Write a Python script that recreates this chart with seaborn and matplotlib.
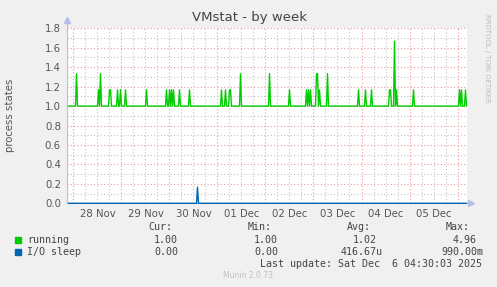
import matplotlib
matplotlib.use("Agg")
import matplotlib.pyplot as plt
import matplotlib.dates as mdates
import numpy as np
import pandas as pd
import seaborn as sns

# ---------------- data ----------------
title = "VMstat - by week"
ylabel = "process states"
series_names = ["running", "I/O sleep"]
series_colors = ["#00CC00", "#0066B3"]

start_time = "2025-11-27 21:00"
end_time = "2025-12-06 04:30"
running_baseline = 1.0
io_baseline = 0.0

# hours after 2025-11-28 00:00 where "running" spikes, and spike values
running_spike_hours = [1.5, 12.5, 13.5, 18, 18.5, 22, 23.5, 26, 36.5, 46.5, 48, 49, 50, 53, 58,
                       74, 76, 78, 78.5, 83.5, 98, 108, 116.5, 117.5, 118.5, 121.5, 122, 123,
                       127, 142.5, 146, 149, 158, 158.5, 160.5, 161.5, 170, 193, 194, 196]
running_spike_values = [1.333, 1.167, 1.333, 1.167, 1.167, 1.167, 1.167, 1.167, 1.167, 1.167,
                        1.167, 1.167, 1.167, 1.167, 1.167, 1.167, 1.167, 1.167, 1.167, 1.333,
                        1.333, 1.167, 1.167, 1.167, 1.167, 1.333, 1.333, 1.167, 1.333, 1.167,
                        1.167, 1.167, 1.167, 1.167, 1.667, 1.167, 1.167, 1.167, 1.167, 1.167]
io_spike_hours = [62]
io_spike_values = [0.167]

xtick_labels = ["28 Nov", "29 Nov", "30 Nov", "01 Dec", "02 Dec", "03 Dec", "04 Dec", "05 Dec"]

legend_cur = ["1.00", "0.00"]
legend_min = ["1.00", "0.00"]
legend_avg = ["1.02", "416.67u"]
legend_max = ["4.96", "990.00m"]
last_update = "Last update: Sat Dec  6 04:30:03 2025"
footer = "Munin 2.0.73"
side_text = "RRDTOOL / TOBI OETIKER"

# ---------------- build frame ----------------
ref = pd.Timestamp("2025-11-28 00:00")
idx = pd.date_range(start_time, end_time, freq="30min")
running = pd.Series(running_baseline, index=idx)
for h, v in zip(running_spike_hours, running_spike_values):
    running[ref + pd.Timedelta(hours=h)] = v
io = pd.Series(io_baseline, index=idx)
for h, v in zip(io_spike_hours, io_spike_values):
    io[ref + pd.Timedelta(hours=h)] = v
df = pd.DataFrame({"time": idx, series_names[0]: running.values, series_names[1]: io.values})
long = df.melt(id_vars="time", var_name="series", value_name="value")

# ---------------- figure ----------------
sns.set_style("white")
plt.rcParams["font.family"] = ["DejaVu Sans"]
W, H = 497, 287
fig = plt.figure(figsize=(W / 100, H / 100), dpi=100, facecolor="#F0F0F0")
ax = fig.add_axes([66.5 / W, 1 - 203.3 / H, 400 / W, 175 / H])
ax.set_facecolor("white")

x0 = pd.Timestamp("2025-11-27 20:30")
x1 = pd.Timestamp("2025-12-06 04:30")

GRAY = "#C4C4C4"
RED = "#EE9A9A"
# grid
for t in pd.date_range("2025-11-27 18:00", x1, freq="6h"):
    if t < x0 or t.hour == 0:
        continue
    ax.axvline(t, color=GRAY, lw=0.8, ls=(0, (1, 2)), zorder=0)
for t in pd.date_range("2025-11-28 00:00", x1, freq="1D"):
    ax.axvline(t, color=RED, lw=0.8, ls=(0, (1, 2)), zorder=0.5)
for y in np.arange(0.1, 1.85, 0.1):
    major = abs(round(y * 10) % 2) == 0
    ax.axhline(y, color=RED if major else GRAY, lw=0.8, ls=(0, (1, 2)),
               zorder=0.5 if major else 0)

sns.lineplot(data=long, x="time", y="value", hue="series", palette=series_colors,
             hue_order=series_names, ax=ax, lw=1.0, legend=False, zorder=3)
for ln in ax.get_lines()[-2:]:
    ln.set_clip_on(False)

ax.set_xlim(x0, x1)
ax.set_ylim(0, 1.8)
noon = [ref + pd.Timedelta(hours=12 + 24 * i) for i in range(len(xtick_labels))]
ax.set_xticks(noon)
ax.set_xticklabels(xtick_labels)
ax.set_yticks(np.arange(0, 1.81, 0.2))
ax.set_yticklabels([f"{v:.1f}" for v in np.arange(0, 1.81, 0.2)])
ax.tick_params(axis="both", length=0, labelsize=7.3, colors="#555555")
ax.tick_params(axis="x", pad=4)
ax.tick_params(axis="y", pad=4)
ax.set_xlabel("")
ax.set_ylabel("")
for s in ax.spines.values():
    s.set_visible(False)

# axis lines with arrows
ax.plot([0, 0], [0, 1.03], transform=ax.transAxes, color="#B8BCE8", lw=0.8, clip_on=False, zorder=4)
ax.plot([0, 1.01], [0, 0], transform=ax.transAxes, color="#B8BCE8", lw=0.8, clip_on=False, zorder=1)
ax.plot([0], [1.045], transform=ax.transAxes, marker="^", ms=4, color="#B8BCE8", clip_on=False)
ax.plot([1.012], [0], transform=ax.transAxes, marker=">", ms=4, color="#B8BCE8", clip_on=False)

# texts
fig.text(250 / W, 1 - 18 / H, title, ha="center", va="center", fontsize=9.5, color="#444444")
fig.text(10 / W, 1 - 115 / H, ylabel, ha="center", va="center", rotation=90,
         fontsize=7.3, color="#555555")
fig.text(487 / W, 1 - 58 / H, side_text, ha="center", va="center", rotation=270,
         fontsize=5, color="#BBBBBB")

mono = dict(family="DejaVu Sans Mono", fontsize=7.2, color="#444444", va="center")
fig.text(172 / W, 1 - 227 / H, "Cur:", ha="right", **mono)
fig.text(272 / W, 1 - 227 / H, "Min:", ha="right", **mono)
fig.text(371 / W, 1 - 227 / H, "Avg:", ha="right", **mono)
fig.text(470 / W, 1 - 227 / H, "Max:", ha="right", **mono)
rows_y = [240, 252]
for i, name in enumerate(series_names):
    y = 1 - rows_y[i] / H
    fig.patches.append(plt.Rectangle((14.5 / W, y - 3 / H), 6 / W, 6 / H,
                                     transform=fig.transFigure, color=series_colors[i]))
    fig.text(27 / W, y, name, ha="left", **mono)
    fig.text(178 / W, y, legend_cur[i], ha="right", **mono)
    fig.text(278 / W, y, legend_min[i], ha="right", **mono)
    fig.text(383 / W if i else 377 / W, y, legend_avg[i], ha="right", **mono)
    fig.text(483 / W if i else 477 / W, y, legend_max[i], ha="right", **mono)
fig.text(482 / W, 1 - 264 / H, last_update, ha="right", **mono)
fig.text(248 / W, 1 - 276 / H, footer, ha="center", va="center", fontsize=5.5, color="#C0C0C0")

fig.savefig("out.png", dpi=100, facecolor=fig.get_facecolor())
